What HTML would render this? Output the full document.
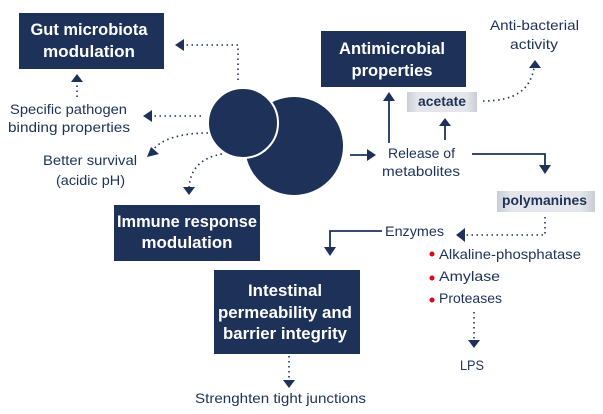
<!DOCTYPE html>
<html><head><meta charset="utf-8"><style>
html,body{margin:0;padding:0;background:#fff}
svg{display:block}
text{font-family:"Liberation Sans",sans-serif}
.b{font-weight:bold;fill:#fff;font-size:17px}
.r{fill:#1e3158;font-size:14px}
</style></head><body>
<svg width="603" height="414" viewBox="0 0 603 414" xmlns="http://www.w3.org/2000/svg">
<defs>
<linearGradient id="g" x1="0" x2="1"><stop offset="0" stop-color="#c9cdd6"/><stop offset="0.15" stop-color="#e4e6eb"/><stop offset="0.85" stop-color="#e4e6eb"/><stop offset="1" stop-color="#c9cdd6"/></linearGradient>
</defs>
<g fill="#1e3158">
<rect x="19" y="13" width="145" height="56"/>
<rect x="321" y="31" width="145" height="56"/>
<rect x="114" y="205" width="146" height="56"/>
<rect x="214" y="270" width="146" height="84"/>
<circle cx="294" cy="146" r="49"/>
<circle cx="243" cy="123" r="35" stroke="#fff" stroke-width="2"/>
</g>
<rect x="407" y="92" width="70" height="20" fill="url(#g)"/>
<rect x="497" y="191" width="98" height="21" fill="url(#g)"/>

<text class="b" x="89" y="35" text-anchor="middle" textLength="117" lengthAdjust="spacingAndGlyphs">Gut microbiota</text>
<text class="b" x="89" y="57" text-anchor="middle" textLength="92" lengthAdjust="spacingAndGlyphs">modulation</text>
<text class="b" x="392" y="54" text-anchor="middle" textLength="106" lengthAdjust="spacingAndGlyphs">Antimicrobial</text>
<text class="b" x="392" y="76" text-anchor="middle" textLength="81" lengthAdjust="spacingAndGlyphs">properties</text>
<text class="b" x="187" y="227" text-anchor="middle" textLength="140" lengthAdjust="spacingAndGlyphs">Immune response</text>
<text class="b" x="187" y="248" text-anchor="middle" textLength="91" lengthAdjust="spacingAndGlyphs">modulation</text>
<text class="b" x="285" y="296" text-anchor="middle" textLength="74" lengthAdjust="spacingAndGlyphs">Intestinal</text>
<text class="b" x="285" y="318" text-anchor="middle" textLength="134" lengthAdjust="spacingAndGlyphs">permeability and</text>
<text class="b" x="285" y="339" text-anchor="middle" textLength="124" lengthAdjust="spacingAndGlyphs">barrier integrity</text>

<text class="r" x="10" y="114" textLength="117" lengthAdjust="spacingAndGlyphs">Specific pathogen</text>
<text class="r" x="8" y="132" textLength="122" lengthAdjust="spacingAndGlyphs">binding properties</text>
<text class="r" x="43" y="165" textLength="94" lengthAdjust="spacingAndGlyphs">Better survival</text>
<text class="r" x="56" y="185" textLength="69" lengthAdjust="spacingAndGlyphs">(acidic pH)</text>
<text class="r" x="490" y="30" textLength="89" lengthAdjust="spacingAndGlyphs">Anti-bacterial</text>
<text class="r" x="510" y="49" textLength="48" lengthAdjust="spacingAndGlyphs">activity</text>
<text class="r" x="418" y="106" textLength="48" lengthAdjust="spacingAndGlyphs" style="font-weight:bold">acetate</text>
<text class="r" x="388" y="158" textLength="67" lengthAdjust="spacingAndGlyphs">Release of</text>
<text class="r" x="382" y="176" textLength="78" lengthAdjust="spacingAndGlyphs">metabolites</text>
<text class="r" x="502" y="205" textLength="85" lengthAdjust="spacingAndGlyphs" style="font-weight:bold">polymanines</text>
<text class="r" x="385" y="236" textLength="59" lengthAdjust="spacingAndGlyphs">Enzymes</text>
<text class="r" x="439" y="259" textLength="142" lengthAdjust="spacingAndGlyphs">Alkaline-phosphatase</text>
<text class="r" x="439" y="281" textLength="61" lengthAdjust="spacingAndGlyphs">Amylase</text>
<text class="r" x="439" y="303" textLength="63" lengthAdjust="spacingAndGlyphs">Proteases</text>
<text class="r" x="460" y="370" textLength="24" lengthAdjust="spacingAndGlyphs">LPS</text>
<text class="r" x="195" y="403" textLength="171" lengthAdjust="spacingAndGlyphs">Strenghten tight junctions</text>
<g fill="#e0001a">
<circle cx="432" cy="254" r="2.5"/><circle cx="432" cy="278" r="2.5"/><circle cx="432" cy="300" r="2.5"/>
</g>

<g fill="none" stroke="#1e3158" stroke-width="1.6" stroke-dasharray="1.5 3.5">
<path d="M238 80 V45 H184"/>
<path d="M77 97 V84"/>
<path d="M201 116 H152"/>
<path d="M208 133 C180 133 160 140 153 150"/>
<path d="M222 154 C200 158 190 170 189 188"/>
<path d="M483 101 C515 101 530 90 534 68"/>
<path d="M545 217 V235 H464"/>
<path d="M474 312 V340"/>
<path d="M289 356 V380"/>
</g>
<g fill="none" stroke="#1e3158" stroke-width="1.8">
<path d="M389 143 V100"/>
<path d="M445 140 V125"/>
<path d="M350 155 H368"/>
<path d="M472 154 H545 V166"/>
<path d="M382 231 H330 V248"/>
</g>
<g fill="#1e3158">
<path d="M175 45 l9 -6 v12z"/>
<path d="M77 74 l-6 8 h12z"/>
<path d="M143 116 l9 -6 v12z"/>
<path d="M147 157 l4 -10 l8 7z"/>
<path d="M189 195 l-6 -8 h12z"/>
<path d="M535 60 l-6 8 h12z"/>
<path d="M389 92 l-6 9 h12z"/>
<path d="M445 118 l-6 8 h12z"/>
<path d="M376 155 l-9 -6 v12z"/>
<path d="M545 174 l-6 -9 h12z"/>
<path d="M456 235 l9 -7 v14z"/>
<path d="M330 256 l-6 -9 h12z"/>
<path d="M474 348 l-6 -8 h12z"/>
<path d="M289 388 l-6 -8 h12z"/>
</g>
</svg>
</body></html>
